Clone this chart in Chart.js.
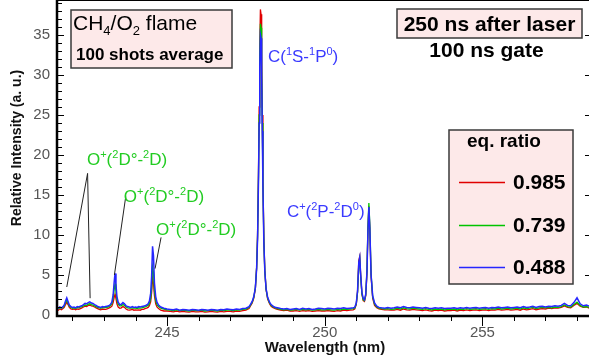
<!DOCTYPE html>
<html>
<head>
<meta charset="utf-8">
<script src="https://cdn.jsdelivr.net/npm/chart.js@4.4.1/dist/chart.umd.min.js"></script>
<style>
  html, body { margin: 0; padding: 0; background: #fff; }
  canvas { display: block; }
</style>
</head>
<body>
<canvas id="spectrum" width="589" height="359"></canvas>
<script>
// Emission spectrum of a CH4/O2 flame, three equivalence ratios
const wavelengthNm = [
  241.50, 241.55, 241.60, 241.65, 241.70, 241.74, 241.78, 241.82, 241.86, 241.90, 241.95,
  242.00, 242.05, 242.10, 242.15, 242.20, 242.25, 242.30, 242.35, 242.40, 242.45, 242.50, 242.55, 242.60, 242.65, 242.70, 242.75, 242.80, 242.85, 242.90, 242.95,
  243.00, 243.05, 243.10, 243.15, 243.20, 243.25, 243.29, 243.32, 243.35, 243.38, 243.41, 243.45, 243.50, 243.55, 243.60, 243.65, 243.70, 243.75, 243.80, 243.85, 243.90, 243.95,
  244.00, 244.05, 244.10, 244.15, 244.20, 244.25, 244.30, 244.35, 244.40, 244.44, 244.48, 244.51, 244.54, 244.57, 244.60, 244.64, 244.68, 244.73, 244.80, 244.90,
  245.00, 245.10, 245.20, 245.30, 245.40, 245.50, 245.60, 245.70, 245.80, 245.90,
  246.00, 246.10, 246.20, 246.30, 246.40, 246.50, 246.60, 246.70, 246.80, 246.90,
  247.00, 247.10, 247.20, 247.30, 247.40, 247.50, 247.60, 247.65, 247.70, 247.75, 247.80, 247.84, 247.87, 247.90, 247.92, 247.94, 247.96, 247.98,
  248.00, 248.02, 248.04, 248.07, 248.10, 248.14, 248.19, 248.25, 248.30, 248.35, 248.40, 248.45, 248.50, 248.60, 248.70, 248.80, 248.90,
  249.00, 249.10, 249.20, 249.30, 249.40, 249.50, 249.60, 249.70, 249.80, 249.90,
  250.00, 250.10, 250.20, 250.30, 250.40, 250.50, 250.60, 250.70, 250.80, 250.90, 250.95,
  251.00, 251.04, 251.08, 251.11, 251.14, 251.18, 251.22, 251.26, 251.30, 251.34, 251.37, 251.40, 251.43, 251.47, 251.52, 251.58, 251.65, 251.72, 251.80, 251.90,
  252.00, 252.10, 252.20, 252.30, 252.40, 252.50, 252.60, 252.70, 252.80, 252.90,
  253.00, 253.10, 253.20, 253.30, 253.40, 253.50, 253.60, 253.70, 253.80, 253.90,
  254.00, 254.10, 254.20, 254.30, 254.40, 254.50, 254.60, 254.70, 254.80, 254.90,
  255.00, 255.10, 255.20, 255.30, 255.40, 255.50, 255.60, 255.70, 255.80, 255.90,
  256.00, 256.10, 256.20, 256.30, 256.40, 256.50, 256.60, 256.70, 256.80, 256.90,
  257.00, 257.10, 257.20, 257.30, 257.40, 257.50, 257.60, 257.70, 257.80, 257.90,
  258.00, 258.10, 258.20, 258.30, 258.40
];

// eq. ratio 0.985
const intensity0985 = [
  0.70, 0.60, 0.75, 0.65, 0.80, 0.95, 1.30, 1.60, 1.30, 0.95, 0.75,
  0.70, 0.75, 0.65, 0.75, 0.70, 0.80, 0.90, 1.00, 1.10, 1.05, 1.20, 1.25, 1.15, 1.10, 1.00, 0.90, 0.80, 0.70, 0.65, 0.75,
  0.70, 0.70, 0.75, 0.85, 0.95, 1.10, 1.55, 2.15, 2.60, 2.05, 1.40, 1.00, 0.85, 0.90, 1.05, 0.95, 0.75, 0.65, 0.60, 0.65, 0.70, 0.60,
  0.65, 0.60, 0.65, 0.60, 0.70, 0.70, 0.80, 0.85, 0.95, 1.15, 1.65, 2.80, 4.60, 4.00, 2.40, 1.40, 1.00, 0.80, 0.60, 0.50,
  0.50, 0.45, 0.40, 0.50, 0.40, 0.45, 0.40, 0.35, 0.45, 0.40,
  0.40, 0.45, 0.35, 0.40, 0.45, 0.40, 0.35, 0.45, 0.40, 0.45,
  0.45, 0.40, 0.50, 0.45, 0.55, 0.60, 0.80, 1.15, 1.50, 2.10, 3.30, 5.90, 10.0, 18.0, 26.0, 33.5, 38.2, 37.6,
  32.5, 25.0, 17.0, 9.5, 5.6, 3.2, 2.0, 1.4, 1.1, 0.95, 0.85, 0.75, 0.70, 0.60, 0.55, 0.60, 0.50,
  0.50, 0.55, 0.45, 0.55, 0.50, 0.55, 0.45, 0.50, 0.55, 0.50,
  0.50, 0.55, 0.50, 0.45, 0.55, 0.50, 0.60, 0.55, 0.60, 0.65, 0.75,
  1.30, 2.90, 6.80, 7.30, 5.00, 2.60, 1.80, 1.70, 2.40, 5.30, 10.6, 13.6, 10.6, 4.80, 2.10, 1.20, 0.90, 0.75, 0.70, 0.65,
  0.65, 0.60, 0.60, 0.70, 0.60, 0.75, 0.65, 0.60, 0.70, 0.65,
  0.60, 0.55, 0.65, 0.55, 0.50, 0.60, 0.55, 0.60, 0.50, 0.55,
  0.55, 0.60, 0.50, 0.60, 0.55, 0.65, 0.55, 0.60, 0.65, 0.55,
  0.60, 0.65, 0.55, 0.65, 0.60, 0.70, 0.60, 0.65, 0.70, 0.60,
  0.65, 0.70, 0.60, 0.75, 0.65, 0.70, 0.80, 0.65, 0.75, 0.80,
  0.75, 0.85, 0.80, 0.90, 0.85, 0.95, 1.15, 0.95, 0.90, 1.20,
  1.45, 1.10, 0.95, 1.00, 0.85
];

// eq. ratio 0.739
const intensity0739 = [
  0.85, 0.80, 0.90, 0.85, 0.95, 1.15, 1.55, 1.85, 1.50, 1.10, 0.95,
  0.85, 0.90, 0.80, 0.95, 0.90, 1.00, 1.05, 1.15, 1.25, 1.20, 1.35, 1.40, 1.30, 1.25, 1.15, 1.05, 0.95, 0.90, 0.85, 0.95,
  0.90, 0.95, 0.95, 1.05, 1.15, 1.40, 2.05, 3.10, 3.90, 2.95, 1.90, 1.35, 1.15, 1.15, 1.30, 1.20, 1.00, 0.90, 0.85, 0.85, 0.90, 0.85,
  0.85, 0.80, 0.90, 0.85, 0.90, 0.95, 1.00, 1.10, 1.20, 1.45, 2.05, 3.40, 6.00, 5.30, 3.00, 1.80, 1.30, 1.05, 0.85, 0.75,
  0.65, 0.60, 0.55, 0.65, 0.55, 0.60, 0.55, 0.50, 0.60, 0.55,
  0.55, 0.60, 0.50, 0.55, 0.60, 0.55, 0.50, 0.60, 0.55, 0.60,
  0.60, 0.55, 0.65, 0.60, 0.70, 0.75, 0.95, 1.25, 1.60, 2.20, 3.40, 5.90, 9.80, 17.5, 25.0, 32.0, 36.4, 35.9,
  31.0, 24.0, 16.5, 9.2, 5.5, 3.2, 2.1, 1.5, 1.2, 1.05, 0.95, 0.85, 0.80, 0.70, 0.65, 0.70, 0.60,
  0.65, 0.70, 0.60, 0.70, 0.65, 0.70, 0.60, 0.65, 0.70, 0.65,
  0.65, 0.70, 0.65, 0.60, 0.70, 0.65, 0.75, 0.70, 0.75, 0.80, 0.85,
  1.40, 2.80, 6.30, 7.00, 4.80, 2.60, 1.90, 1.80, 2.50, 5.60, 11.0, 14.0, 11.2, 5.10, 2.30, 1.35, 1.00, 0.85, 0.80, 0.75,
  0.80, 0.70, 0.75, 0.85, 0.75, 0.90, 0.80, 0.75, 0.85, 0.80,
  0.75, 0.70, 0.80, 0.70, 0.65, 0.75, 0.70, 0.75, 0.65, 0.70,
  0.70, 0.75, 0.65, 0.75, 0.70, 0.80, 0.70, 0.75, 0.80, 0.70,
  0.75, 0.80, 0.70, 0.80, 0.75, 0.85, 0.75, 0.80, 0.85, 0.75,
  0.80, 0.85, 0.75, 0.90, 0.80, 0.85, 0.95, 0.80, 0.90, 0.95,
  0.90, 0.95, 0.90, 1.00, 0.95, 1.05, 1.25, 1.05, 1.00, 1.30,
  1.60, 1.20, 1.00, 1.05, 0.95
];

// eq. ratio 0.488
const intensity0488 = [
  0.95, 0.85, 1.00, 0.90, 1.05, 1.25, 1.75, 2.15, 1.70, 1.25, 1.05,
  0.95, 1.00, 0.90, 1.05, 1.00, 1.10, 1.15, 1.30, 1.45, 1.40, 1.55, 1.65, 1.50, 1.45, 1.30, 1.20, 1.05, 1.00, 0.95, 1.05,
  1.00, 1.05, 1.10, 1.15, 1.30, 1.60, 2.50, 4.00, 5.20, 3.80, 2.30, 1.60, 1.30, 1.35, 1.55, 1.40, 1.15, 1.05, 1.00, 0.95, 1.05, 0.95,
  1.00, 0.95, 1.05, 1.00, 1.05, 1.10, 1.15, 1.25, 1.40, 1.75, 2.70, 4.80, 8.60, 7.40, 4.00, 2.30, 1.60, 1.25, 1.00, 0.85,
  0.75, 0.70, 0.65, 0.75, 0.60, 0.70, 0.65, 0.60, 0.70, 0.65,
  0.60, 0.70, 0.65, 0.60, 0.70, 0.65, 0.60, 0.70, 0.65, 0.75,
  0.70, 0.65, 0.75, 0.70, 0.80, 0.85, 1.05, 1.35, 1.70, 2.30, 3.40, 5.80, 9.50, 17.0, 24.0, 31.0, 35.0, 34.6,
  30.0, 23.0, 16.0, 9.0, 5.5, 3.3, 2.2, 1.6, 1.3, 1.15, 1.00, 0.95, 0.90, 0.80, 0.75, 0.80, 0.70,
  0.75, 0.80, 0.70, 0.85, 0.75, 0.80, 0.70, 0.75, 0.85, 0.80,
  0.75, 0.85, 0.80, 0.75, 0.85, 0.80, 0.90, 0.80, 0.85, 0.90, 0.95,
  1.50, 3.00, 6.60, 7.20, 5.00, 2.80, 2.10, 1.90, 2.60, 5.50, 10.5, 13.5, 10.8, 5.00, 2.40, 1.50, 1.10, 0.95, 0.90, 0.85,
  0.95, 0.85, 0.90, 1.00, 0.90, 1.05, 0.95, 0.90, 1.00, 0.95,
  0.90, 0.85, 0.95, 0.85, 0.80, 0.90, 0.85, 0.90, 0.80, 0.85,
  0.85, 0.90, 0.80, 0.90, 0.85, 0.95, 0.85, 0.90, 0.95, 0.85,
  0.90, 0.95, 0.85, 0.95, 0.90, 1.00, 0.90, 0.95, 1.00, 0.90,
  0.95, 1.00, 0.90, 1.05, 0.95, 1.00, 1.10, 0.95, 1.05, 1.10,
  1.00, 1.10, 1.05, 1.15, 1.10, 1.20, 1.45, 1.20, 1.15, 1.55,
  2.15, 1.40, 1.15, 1.25, 1.10
];

const eqRatios = ["0.985", "0.739", "0.488"];
const seriesColors = ["#e00000", "#00c400", "#2626ff"];

const xMajorTicks = [245, 250, 255];
const xMinorTicks = [242, 243, 244, 246, 247, 248, 249, 251, 252, 253, 254, 256, 257, 258];
const yMajorTicks = [0, 5, 10, 15, 20, 25, 30, 35];
const yMinorTicks = [1, 2, 3, 4, 6, 7, 8, 9, 11, 12, 13, 14, 16, 17, 18, 19, 21, 22, 23, 24,
  26, 27, 28, 29, 31, 32, 33, 34, 36, 37, 38, 39];

// line assignments, anchored in data units: [x, y] of the text start
const oxygenLabel = [["O", ""], ["+", "sup"], ["(", ""], ["2", "sup"], ["D°-", ""], ["2", "sup"], ["D)", ""]];
const lineNotes = [
  { parts: oxygenLabel, at: [242.46, 18.75], color: "#22cc22" },
  { parts: oxygenLabel, at: [243.63, 14.1], color: "#22cc22" },
  { parts: oxygenLabel, at: [244.65, 10.0], color: "#22cc22" },
  { parts: [["C(", ""], ["1", "sup"], ["S-", ""], ["1", "sup"], ["P", ""], ["0", "sup"], [")", ""]], at: [248.2, 31.6], color: "#3a3aff" },
  { parts: [["C", ""], ["+", "sup"], ["(", ""], ["2", "sup"], ["P-", ""], ["2", "sup"], ["D", ""], ["0", "sup"], [")", ""]], at: [248.8, 12.25], color: "#3a3aff" }
];
// leader lines from the labels down to their peaks
const leaderLines = [
  [[242.48, 17.7], [241.82, 3.5]],
  [[242.48, 17.7], [242.56, 2.1]],
  [[243.69, 14.8], [243.33, 5.0]],
  [[244.81, 9.7], [244.62, 5.8]]
];

const FONT = '"Liberation Sans", Arial, Helvetica, sans-serif';

function richWidth(ctx, parts, size, weight) {
  let w = 0;
  for (const [text, kind] of parts) {
    ctx.font = `${weight} ${kind ? Math.round(size * 0.62) : size}px ${FONT}`;
    w += ctx.measureText(text).width;
  }
  return w;
}

function drawRich(ctx, parts, x, y, size, color, weight = "normal", align = "left") {
  if (align === "center") x -= richWidth(ctx, parts, size, weight) / 2;
  ctx.fillStyle = color;
  ctx.textBaseline = "alphabetic";
  ctx.textAlign = "left";
  for (const [text, kind] of parts) {
    const s = kind ? Math.round(size * 0.62) : size;
    const dy = kind === "sup" ? -size * 0.42 : kind === "sub" ? size * 0.24 : 0;
    ctx.font = `${weight} ${s}px ${FONT}`;
    ctx.fillText(text, x, y + dy);
    x += ctx.measureText(text).width;
  }
}

function pinkBox(ctx, x, y, w, h) {
  ctx.fillStyle = "#fde9e9";
  ctx.fillRect(x, y, w, h);
  ctx.strokeStyle = "#3a3a3a";
  ctx.lineWidth = 1.5;
  ctx.strokeRect(x, y, w, h);
}

const spectrumDecor = {
  id: "spectrumDecor",
  afterDraw(chart) {
    const { ctx, chartArea: area, scales: { x, y } } = chart;
    ctx.save();

    // frame and axes
    ctx.strokeStyle = "#000";
    ctx.lineWidth = 1;
    ctx.beginPath();
    ctx.moveTo(area.left, area.top - 0.5);
    ctx.lineTo(area.right, area.top - 0.5);
    ctx.stroke();
    ctx.lineWidth = 2.5;
    ctx.beginPath();
    ctx.moveTo(area.left, 0);
    ctx.lineTo(area.left, area.bottom + 1);
    ctx.lineTo(area.right, area.bottom + 1);
    ctx.stroke();

    // ticks
    ctx.lineWidth = 1;
    ctx.beginPath();
    for (const v of yMinorTicks) {
      const py = Math.round(y.getPixelForValue(v)) + 0.5;
      ctx.moveTo(area.left, py); ctx.lineTo(area.left + 5, py);
    }
    for (const v of yMajorTicks) {
      const py = Math.round(y.getPixelForValue(v)) + 0.5;
      ctx.moveTo(area.left, py); ctx.lineTo(area.left + 7, py);
      ctx.moveTo(area.right, py); ctx.lineTo(area.right - 4, py);
    }
    for (const v of xMinorTicks) {
      const px = Math.round(x.getPixelForValue(v)) + 0.5;
      ctx.moveTo(px, area.bottom); ctx.lineTo(px, area.bottom + 6);
    }
    for (const v of xMajorTicks) {
      const px = Math.round(x.getPixelForValue(v)) + 0.5;
      ctx.moveTo(px, area.bottom); ctx.lineTo(px, area.bottom + 11);
    }
    ctx.stroke();

    // tick labels
    ctx.fillStyle = "#555";
    ctx.font = `15px ${FONT}`;
    ctx.textAlign = "right";
    ctx.textBaseline = "middle";
    for (const v of yMajorTicks) ctx.fillText(String(v), area.left - 7, y.getPixelForValue(v));
    ctx.textAlign = "center";
    ctx.textBaseline = "top";
    for (const v of xMajorTicks) ctx.fillText(String(v), x.getPixelForValue(v), area.bottom + 10);

    // axis titles
    ctx.fillStyle = "#111";
    ctx.font = `bold 15px ${FONT}`;
    ctx.textBaseline = "middle";
    ctx.fillText("Wavelength (nm)", (area.left + area.right) / 2 + 2, 348);
    ctx.save();
    ctx.translate(17, 148);
    ctx.rotate(-Math.PI / 2);
    ctx.font = `bold 14px ${FONT}`;
    ctx.fillText("Relative Intensity (a. u.)", 0, 0);
    ctx.restore();

    // leader lines
    ctx.strokeStyle = "#222";
    ctx.lineWidth = 1;
    ctx.beginPath();
    for (const [a, b] of leaderLines) {
      ctx.moveTo(x.getPixelForValue(a[0]), y.getPixelForValue(a[1]));
      ctx.lineTo(x.getPixelForValue(b[0]), y.getPixelForValue(b[1]));
    }
    ctx.stroke();

    for (const note of lineNotes) {
      drawRich(ctx, note.parts, x.getPixelForValue(note.at[0]), y.getPixelForValue(note.at[1]), 17, note.color);
    }

    // flame / timing boxes
    pinkBox(ctx, 71, 10, 161, 58);
    drawRich(ctx, [["CH", ""], ["4", "sub"], ["/O", ""], ["2", "sub"], [" flame", ""]], 73, 30, 21, "#000");
    drawRich(ctx, [["100 shots average", ""]], 76, 60, 17, "#000", "bold");

    pinkBox(ctx, 397, 9, 185, 29);
    drawRich(ctx, [["250 ns after laser", ""]], 489.5, 31, 21, "#000", "bold", "center");
    drawRich(ctx, [["100 ns gate", ""]], 486.5, 57, 21, "#000", "bold", "center");

    // legend
    pinkBox(ctx, 449, 130, 124, 154);
    drawRich(ctx, [["eq. ratio", ""]], 467, 147, 19, "#000", "bold");
    const rows = [182, 225, 267];
    ctx.lineWidth = 1.5;
    rows.forEach((ry, i) => {
      ctx.strokeStyle = seriesColors[i];
      ctx.beginPath();
      ctx.moveTo(459, ry + 0.5);
      ctx.lineTo(505, ry + 0.5);
      ctx.stroke();
    });
    ctx.fillStyle = "#000";
    ctx.font = `bold 21px ${FONT}`;
    ctx.textAlign = "left";
    ctx.textBaseline = "middle";
    rows.forEach((ry, i) => ctx.fillText(eqRatios[i], 513, ry + 1));

    ctx.restore();
  }
};

function series(values) {
  return wavelengthNm.map((w, i) => ({ x: w, y: values[i] }));
}

new Chart(document.getElementById("spectrum"), {
  type: "line",
  data: {
    datasets: [
      { label: eqRatios[0], data: series(intensity0985), borderColor: seriesColors[0], borderWidth: 1.3, order: 3 },
      { label: eqRatios[1], data: series(intensity0739), borderColor: seriesColors[1], borderWidth: 1.3, order: 2 },
      { label: eqRatios[2], data: series(intensity0488), borderColor: seriesColors[2], borderWidth: 1.5, order: 1 }
    ]
  },
  options: {
    responsive: false,
    animation: false,
    devicePixelRatio: 1,
    elements: { point: { radius: 0 }, line: { tension: 0 } },
    layout: { padding: { left: 57, right: 0, top: 1, bottom: 44 } },
    plugins: { legend: { display: false }, tooltip: { enabled: false } },
    scales: {
      x: { type: "linear", min: 241.51, max: 258.38, display: false },
      y: { min: 0, max: 39.25, display: false }
    }
  },
  plugins: [spectrumDecor]
});
</script>
</body>
</html>
